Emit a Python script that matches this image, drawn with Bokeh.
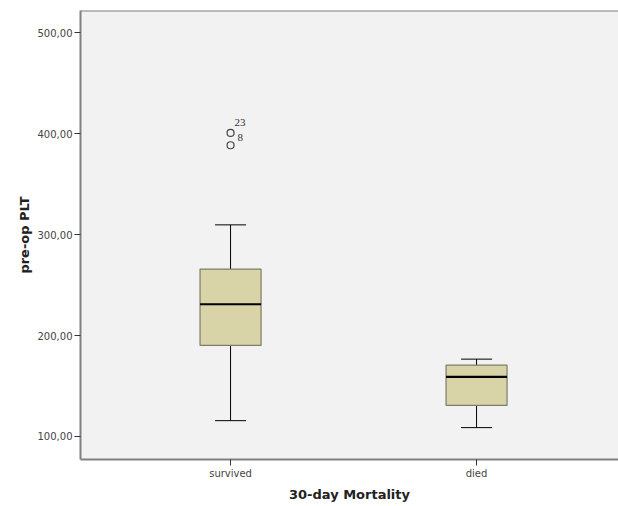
from bokeh.plotting import figure
from bokeh.models import ColumnDataSource, FixedTicker, Range1d, Span
from bokeh.embed import file_html
from bokeh.resources import INLINE

# ---- data ----
categories = ["survived", "died"]
cat_pos = [1, 2]
lower_whisker = [115.6, 108.7]
q1 = [190.2, 130.8]
median = [231.0, 159.0]
q3 = [265.9, 170.6]
upper_whisker = [309.7, 176.6]

outlier_cat = [1, 1]
outlier_values = [400.8, 388.6]
outlier_labels = ["23", "8"]

y_ticks = [100, 200, 300, 400, 500]
y_tick_labels = ["100,00", "200,00", "300,00", "400,00", "500,00"]

# ---- figure ----
p = figure(width=618, height=504, output_backend="svg", toolbar_location=None,
           x_range=Range1d(0.39, 2.577), y_range=Range1d(77.1, 522.2),
           min_border_left=80, min_border_top=10, min_border_right=0, min_border_bottom=0)
p.background_fill_color = "#F2F2F2"
p.border_fill_color = "white"
p.outline_line_color = None
p.xgrid.visible = False
p.ygrid.visible = False

box_w = 0.248
cap_w = 0.126
src = ColumnDataSource(dict(x=cat_pos, lw=lower_whisker, q1=q1, med=median, q3=q3, uw=upper_whisker,
                            x0=[c - box_w / 2 for c in cat_pos], x1=[c + box_w / 2 for c in cat_pos],
                            c0=[c - cap_w / 2 for c in cat_pos], c1=[c + cap_w / 2 for c in cat_pos]))

# whiskers
p.segment(x0="x", y0="q3", x1="x", y1="uw", source=src, line_color="black", line_width=1)
p.segment(x0="x", y0="q1", x1="x", y1="lw", source=src, line_color="black", line_width=1)
p.segment(x0="c0", y0="uw", x1="c1", y1="uw", source=src, line_color="black", line_width=1)
p.segment(x0="c0", y0="lw", x1="c1", y1="lw", source=src, line_color="black", line_width=1)
# boxes
p.vbar(x="x", width=box_w, bottom="q1", top="q3", source=src,
       fill_color="#D8D4A8", line_color="#7E7C68", line_width=1.2)
# median
p.segment(x0="x0", y0="med", x1="x1", y1="med", source=src, line_color="black", line_width=2.2)

# outliers
osrc = ColumnDataSource(dict(x=outlier_cat, y=outlier_values, t=outlier_labels,
                             xo=[4, 7], yo=[-10, -8]))
p.scatter(x="x", y="y", source=osrc, marker="circle", size=7, fill_color=None,
          line_color="#444444", line_width=1.2)
p.text(x="x", y="y", text="t", source=osrc, x_offset="xo", y_offset="yo",
       text_font_size="11px", text_color="#333333", text_baseline="middle", text_align="left",
       text_font="DejaVu Sans")

# top frame line
p.add_layout(Span(location=522.2, dimension="width", line_color="#808080", line_width=2))

# axes
p.xaxis.ticker = FixedTicker(ticks=cat_pos)
p.xaxis.major_label_overrides = {c: l for c, l in zip(cat_pos, categories)}
p.yaxis.ticker = FixedTicker(ticks=y_ticks)
p.yaxis.major_label_overrides = {t: l for t, l in zip(y_ticks, y_tick_labels)}
p.xaxis.axis_label = "30-day Mortality"
p.yaxis.axis_label = "pre-op PLT"
for ax in (p.xaxis, p.yaxis):
    ax.axis_line_color = "#808080"
    ax.axis_line_width = 2
    ax.major_tick_line_color = "#333333"
    ax.major_tick_out = 6
    ax.major_tick_in = 0
    ax.minor_tick_line_color = None
    ax.major_label_text_font = "DejaVu Sans"
    ax.major_label_text_font_size = "10px"
    ax.major_label_text_color = "#444444"
    ax.axis_label_text_font = "DejaVu Sans"
    ax.axis_label_text_font_size = "13px"
    ax.axis_label_text_font_style = "bold"
    ax.axis_label_text_color = "#222222"
p.xaxis.major_label_standoff = 2
p.yaxis.major_label_standoff = 2
p.xaxis.axis_label_standoff = 5
p.yaxis.axis_label_standoff = 3

open("out.html", "w").write(file_html(p, INLINE))
